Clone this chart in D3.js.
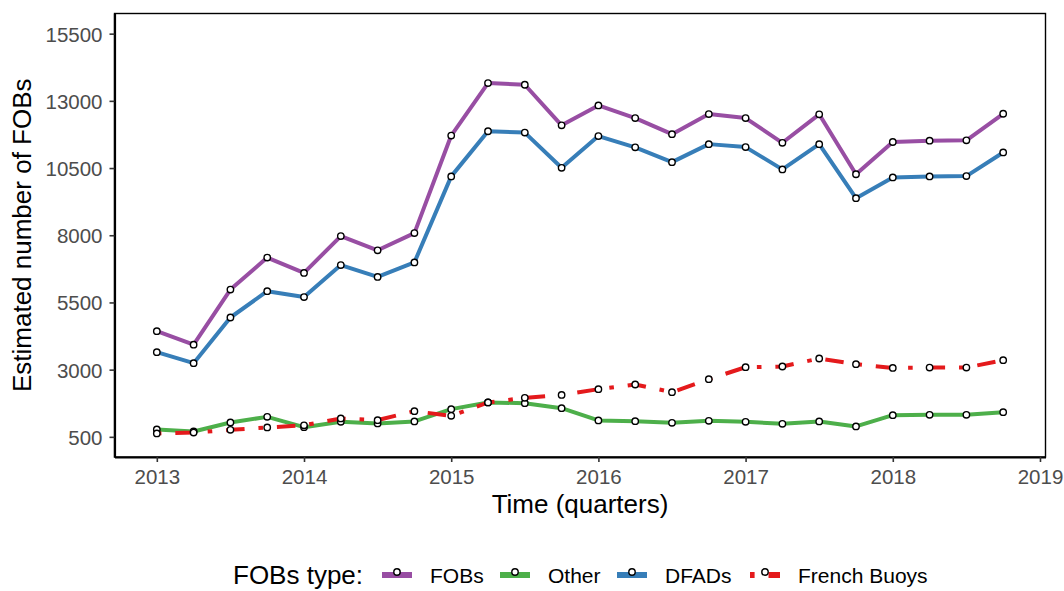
<!DOCTYPE html>
<html>
<head>
<meta charset="utf-8">
<script src="https://cdn.jsdelivr.net/npm/d3@7"></script>
<style>
  html, body { margin: 0; padding: 0; background: #fff; }
  svg { display: block; font-family: "Liberation Sans", Arial, sans-serif; }
</style>
</head>
<body>
<svg id="chart" width="1064" height="591"></svg>
<script>
// ---- data ----
const quarters = [2013, 2013.25, 2013.5, 2013.75, 2014, 2014.25, 2014.5, 2014.75,
                  2015, 2015.25, 2015.5, 2015.75, 2016, 2016.25, 2016.5, 2016.75,
                  2017, 2017.25, 2017.5, 2017.75, 2018, 2018.25, 2018.5, 2018.75];
const fobs   = [4430, 3930, 5980, 7170, 6600, 7970, 7440, 8080, 11710, 13660, 13600, 12090,
                12830, 12360, 11760, 12510, 12360, 11440, 12500, 10270, 11470, 11520, 11530, 12520];
const dfads  = [3650, 3240, 4940, 5920, 5700, 6890, 6450, 6990, 10190, 11870, 11820, 10510,
                11690, 11270, 10720, 11390, 11280, 10450, 11390, 9380, 10150, 10190, 10200, 11080];
const other  = [775, 700, 1035, 1243, 860, 1058, 998, 1072, 1530, 1779, 1753, 1567,
                1110, 1084, 1020, 1095, 1058, 983, 1072, 887, 1307, 1318, 1318, 1418];
const french = [626, 660, 760, 849, 930, 1184, 1121, 1455, 1281, 1779, 1950, 2061,
                2273, 2448, 2161, 2645, 3091, 3117, 3414, 3202, 3065, 3078, 3078, 3351];
const seriesNames = ["FOBs", "Other", "DFADs", "French Buoys"];
const seriesValues = [fobs, other, dfads, french];
const seriesColors = ["#984EA3", "#4DAF4A", "#377EB8", "#E41A1C"];
const seriesDash = [null, null, null, "4.6,13.9,18.5,13.9"];
const yTicks = [500, 3000, 5500, 8000, 10500, 13000, 15500];
const xTicks = [2013, 2014, 2015, 2016, 2017, 2018, 2019];
const xTitle = "Time (quarters)";
const yTitle = "Estimated number of FOBs";
const legendTitle = "FOBs type:";

// ---- layout ----
const svg = d3.select("#chart");
const panel = { left: 114.5, right: 1045.5, top: 13.5, bottom: 457 };

const x = d3.scaleLinear()
  .domain([2013 - 5.75 * 0.05, 2018.75 + 5.75 * 0.05])
  .range([panel.left, panel.right]);
const y = d3.scaleLinear()
  .domain([500 - 750, 15500 + 750])
  .range([panel.bottom, panel.top]);

// panel border
svg.append("rect")
  .attr("x", panel.left).attr("y", panel.top)
  .attr("width", panel.right - panel.left).attr("height", panel.bottom - panel.top)
  .attr("fill", "none").attr("stroke", "#000").attr("stroke-width", 1.4);

// axes
const xAxis = d3.axisBottom(x).tickValues(xTicks).tickFormat(d3.format("d")).tickSize(5).tickSizeOuter(0);
const yAxis = d3.axisLeft(y).tickValues(yTicks).tickFormat(d3.format("d")).tickSize(5).tickSizeOuter(0);

const gx = svg.append("g").attr("transform", `translate(0,${panel.bottom})`).call(xAxis);
const gy = svg.append("g").attr("transform", `translate(${panel.left},0)`).call(yAxis);
[gx, gy].forEach(g => {
  g.select(".domain").attr("stroke", "#000").attr("stroke-width", 2.2);
  g.selectAll(".tick line").attr("stroke", "#333").attr("stroke-width", 1.6);
  g.selectAll(".tick text").attr("fill", "#4D4D4D").attr("font-size", 20.5)
    .attr("font-family", "Liberation Sans, Arial, sans-serif");
});
gx.selectAll(".tick text").attr("dy", null).attr("y", 27);
gy.selectAll(".tick text").attr("x", -12).attr("dy", "0.36em");

// axis titles
svg.append("text")
  .attr("x", (panel.left + panel.right) / 2).attr("y", 513)
  .attr("text-anchor", "middle").attr("font-size", 26).attr("fill", "#000")
  .text(xTitle);
svg.append("text")
  .attr("transform", `translate(31,${(panel.top + panel.bottom) / 2}) rotate(-90)`)
  .attr("text-anchor", "middle").attr("font-size", 26).attr("fill", "#000")
  .text(yTitle);

// lines
const line = d3.line().x(d => x(d[0])).y(d => y(d[1]));
const plot = svg.append("g");
seriesValues.forEach((vals, i) => {
  const pts = quarters.map((q, j) => [q, vals[j]]);
  plot.append("path")
    .datum(pts)
    .attr("d", line)
    .attr("fill", "none")
    .attr("stroke", seriesColors[i])
    .attr("stroke-width", 4)
    .attr("stroke-linejoin", "round")
    .attr("stroke-dasharray", seriesDash[i]);
});
// points
seriesValues.forEach((vals, i) => {
  plot.selectAll(null)
    .data(quarters.map((q, j) => [q, vals[j]]))
    .enter().append("circle")
    .attr("cx", d => x(d[0])).attr("cy", d => y(d[1]))
    .attr("r", 3.2)
    .attr("fill", "#fff").attr("stroke", "#000").attr("stroke-width", 1.4);
});

// legend
const legY = 575;
const leg = svg.append("g");
leg.append("text").attr("x", 233).attr("y", legY + 9).attr("font-size", 26).attr("fill", "#000").text(legendTitle);
const keyX = [382, 500, 617, 750];
seriesNames.forEach((name, i) => {
  const k = keyX[i];
  leg.append("line")
    .attr("x1", k).attr("x2", k + 30).attr("y1", legY).attr("y2", legY)
    .attr("stroke", seriesColors[i]).attr("stroke-width", 6)
    .attr("stroke-dasharray", seriesDash[i]);
  leg.append("circle").attr("cx", k + 15).attr("cy", legY - 3).attr("r", 3.2)
    .attr("fill", "#fff").attr("stroke", "#000").attr("stroke-width", 1.4);
  leg.append("text").attr("x", k + 48).attr("y", legY + 7.5)
    .attr("font-size", 21).attr("fill", "#000").text(name);
});
</script>
</body>
</html>
